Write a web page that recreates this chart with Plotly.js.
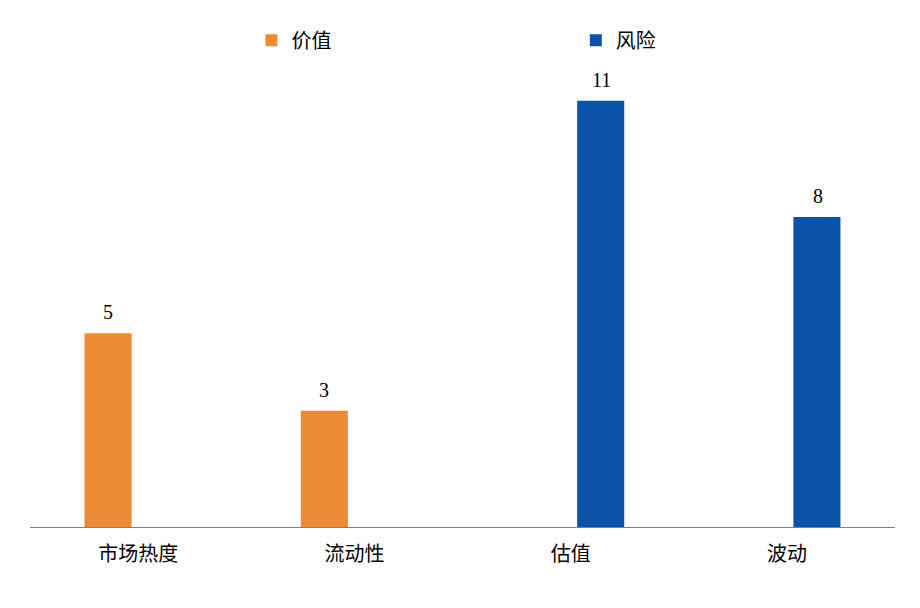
<!DOCTYPE html>
<html>
<head>
<meta charset="utf-8">
<script src="https://cdn.plot.ly/plotly-3.0.1.min.js"></script>
<style>
  html, body { margin: 0; padding: 0; background: #fff; }
  #chart { width: 920px; height: 608px; }
</style>
</head>
<body>
<div id="chart"></div>
<script>
'use strict'

// categories and the two series
const categories = ['市场热度', '流动性', '估值', '波动'];
const valueName = '价值';
const riskName = '风险';
const valueSeries = [5, 3, null, null];
const riskSeries = [null, null, 11, 8];

const orange = '#ED8B35';
const blue = '#0B52A9';
const textFont = 'Liberation Serif, Noto Sans CJK SC, serif';

let valueTrace = {
    x: categories,
    y: valueSeries,
    name: valueName,
    type: 'bar',
    marker: { color: orange },
    legend: 'legend',
    hoverinfo: 'skip'
}

let riskTrace = {
    x: categories,
    y: riskSeries,
    name: riskName,
    type: 'bar',
    marker: { color: blue },
    legend: 'legend2',
    hoverinfo: 'skip'
}

// value labels above each bar, nudged to the bar's slot in the group
let labels = [];
let addLabels = function(series, shift) {
    for (let i = 0; i < categories.length; i++) {
        if (series[i] === null) continue;
        labels.push({
            x: categories[i],
            y: series[i],
            xref: 'x',
            yref: 'y',
            text: String(series[i]),
            showarrow: false,
            yanchor: 'bottom',
            yshift: 8,
            xshift: shift,
            font: { family: textFont, size: 20, color: '#000' }
        });
    }
}
addLabels(valueSeries, -30);
addLabels(riskSeries, 31);

const layout = {
    width: 920,
    height: 608,
    margin: { l: 30, r: 25, t: 62, b: 81 },
    paper_bgcolor: '#fff',
    plot_bgcolor: '#fff',
    font: { family: textFont, size: 20, color: '#000' },
    barmode: 'group',
    bargap: 0.444,
    bargroupgap: 0.217,
    showlegend: true,
    legend: {
        orientation: 'h',
        x: 0.256, xanchor: 'left',
        y: 1.047, yanchor: 'middle',
        font: { family: textFont, size: 20, color: '#000' },
        bgcolor: 'rgba(0,0,0,0)'
    },
    legend2: {
        orientation: 'h',
        x: 0.631, xanchor: 'left',
        y: 1.047, yanchor: 'middle',
        font: { family: textFont, size: 20, color: '#000' },
        bgcolor: 'rgba(0,0,0,0)'
    },
    xaxis: {
        type: 'category',
        showline: true,
        linecolor: '#808080',
        linewidth: 1,
        ticks: '',
        ticklabelstandoff: 9,
        showgrid: false,
        zeroline: false,
        tickfont: { family: textFont, size: 20, color: '#000' },
        fixedrange: true
    },
    yaxis: {
        range: [0, 12],
        visible: false,
        showgrid: false,
        zeroline: false,
        fixedrange: true
    },
    annotations: labels
}

const config = { displayModeBar: false, staticPlot: true }

Plotly.newPlot('chart', [valueTrace, riskTrace], layout, config);
</script>
</body>
</html>
